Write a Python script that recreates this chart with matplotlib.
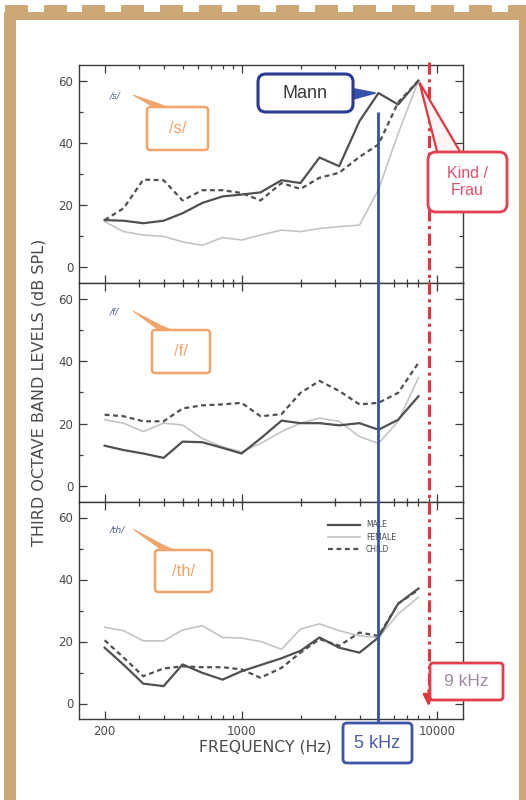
import matplotlib
matplotlib.use("Agg")
import matplotlib.pyplot as plt
import matplotlib.transforms as mtransforms
from matplotlib.patches import Rectangle, FancyBboxPatch, Polygon
from matplotlib.lines import Line2D
from matplotlib.ticker import FixedLocator, NullFormatter

# ---------------- data ----------------
freqs = [200, 250, 315, 400, 500, 630, 800, 1000, 1250, 1600, 2000, 2500,
         3150, 4000, 5000, 6300, 8000]

s_male   = [15.2, 15.0, 14.2, 15.0, 17.4, 20.7, 22.8, 23.4, 24.1, 28.0, 27.1,
            35.3, 32.5, 47.0, 56.0, 52.3, 60.0]
s_female = [14.7, 11.5, 10.4, 10.0, 8.2, 7.1, 9.6, 8.8, 10.4, 12.0, 11.5,
            12.5, 13.1, 13.6, 25.0, 43.0, 60.0]
s_child  = [15.2, 19.0, 28.2, 28.0, 21.5, 24.8, 24.8, 23.9, 21.5, 27.1, 25.2,
            28.8, 30.4, 35.5, 39.5, 53.0, 60.0]

f_male   = [13.0, 11.6, 10.5, 9.1, 14.3, 14.1, 12.3, 10.5, 15.3, 21.0, 20.2,
            20.2, 19.5, 20.2, 18.1, 21.3, 28.8]
f_female = [21.3, 20.2, 17.5, 20.2, 19.6, 15.3, 12.6, 11.0, 13.7, 17.5, 20.2,
            21.8, 20.8, 15.9, 13.7, 20.8, 34.8]
f_child  = [22.9, 22.4, 20.8, 20.8, 24.9, 25.9, 26.2, 26.7, 22.4, 23.1, 29.9,
            33.7, 30.5, 26.2, 26.7, 29.9, 39.5]

th_male   = [18.0, 12.5, 6.4, 5.6, 12.6, 9.9, 7.7, 10.4, 12.4, 14.6, 17.0,
             21.3, 18.0, 16.4, 21.3, 32.2, 37.1]
th_female = [24.6, 23.5, 20.2, 20.2, 23.7, 25.1, 21.3, 21.1, 20.0, 17.5, 24.0,
             25.7, 23.5, 21.8, 21.3, 28.9, 34.3]
th_child  = [20.4, 14.8, 8.8, 11.3, 12.0, 11.7, 11.7, 11.0, 8.3, 11.5, 16.4,
             20.8, 18.6, 22.9, 21.8, 32.2, 36.7]

phonemes = ["/s/", "/f/", "/th/"]
series_names = ["MALE", "FEMALE", "CHILD"]
xtick_values = [200, 1000, 10000]
xtick_labels = ["200", "1000", "10000"]
xminor_values = [300, 400, 500, 600, 700, 800, 900,
                 2000, 3000, 4000, 5000, 6000, 7000, 8000, 9000]
ytick_values = [0, 20, 40, 60]
yminor_values = [10, 30, 50]
MANN_FREQ = 5000
KIND_FREQ = 9000
MANN_LABEL = "Mann"
KIND_LABEL = "Kind /\nFrau"
MANN_FREQ_LABEL = "5 kHz"
KIND_FREQ_LABEL = "9 kHz"

panels = [(s_male, s_female, s_child),
          (f_male, f_female, f_child),
          (th_male, th_female, th_child)]

# ---------------- styles ----------------
W, H = 526, 800
TAN = "#CDA877"
BLUE = "#3452A8"
RED = "#E6343E"
ORANGE = "#F1A46A"
DARK = "#505050"
LIGHT = "#C4C4C4"
AXC = "#3a3a3a"
TXT = "#4a4a4a"

fig = plt.figure(figsize=(W / 100, H / 100), dpi=100)
fig.patch.set_facecolor("white")


def fx(px):
    return px / W


def fy(py):
    return 1 - py / H


# ---------------- decorative border ----------------
bg = fig.add_axes([0, 0, 1, 1], zorder=-5)
bg.set_xlim(0, W)
bg.set_ylim(H, 0)
bg.axis("off")
bg.add_patch(Rectangle((4, 12), 12, H, color=TAN, lw=0))
bg.add_patch(Rectangle((4, 12), W, 8, color=TAN, lw=0))
bg.add_patch(Rectangle((519, 12), 10, H, color=TAN, lw=0))
k = 0
while 5 + 38.7 * k < W:
    bg.add_patch(Rectangle((5 + 38.7 * k, 5), 23, 8, color=TAN, lw=0))
    k += 1

# ---------------- chart panels ----------------
left, right = 79, 463
tops = [65, 283, 502]
bottoms = [283, 502, 719]
axes = []
for i, ((m, fe, c), t, b) in enumerate(zip(panels, tops, bottoms)):
    ax = fig.add_axes([fx(left), fy(b), (right - left) / W, (b - t) / H])
    ax.set_xscale("log")
    ax.plot(freqs, fe, color=LIGHT, lw=1.2, label=series_names[1], zorder=2)
    ax.plot(freqs, m, color=DARK, lw=1.6, label=series_names[0], zorder=3)
    ax.plot(freqs, c, color=DARK, lw=1.6, dashes=(2.2, 1.6),
            label=series_names[2], zorder=3)
    ax.set_xlim(148, 13500)
    ax.set_ylim(-5, 65)
    ax.xaxis.set_major_locator(FixedLocator(xtick_values))
    ax.xaxis.set_minor_locator(FixedLocator(xminor_values))
    ax.xaxis.set_minor_formatter(NullFormatter())
    ax.yaxis.set_major_locator(FixedLocator(ytick_values))
    ax.yaxis.set_minor_locator(FixedLocator(yminor_values))
    if i == 2:
        ax.set_xticks(xtick_values, labels=xtick_labels)
    else:
        ax.tick_params(axis="x", labelbottom=False)
    ax.tick_params(which="both", direction="in", top=True, right=True,
                   color=AXC, labelsize=8.5, labelcolor=TXT, pad=4)
    ax.tick_params(which="major", length=5.5, width=0.9)
    ax.tick_params(which="minor", length=3, width=0.9)
    for sp in ax.spines.values():
        sp.set_color(AXC)
        sp.set_linewidth(1.0)
    axes.append(ax)

# legend in bottom panel
h_m = Line2D([], [], color=DARK, lw=1.6)
h_f = Line2D([], [], color=LIGHT, lw=1.2)
h_c = Line2D([], [], color=DARK, lw=1.6, dashes=(2.2, 1.6))
leg = axes[2].legend([h_m, h_f, h_c], series_names, loc="upper left",
                     bbox_to_anchor=(0.64, 0.93), frameon=False, fontsize=5.5,
                     handlelength=4.2, handletextpad=0.8, labelspacing=0.45,
                     borderaxespad=0)
for t in leg.get_texts():
    t.set_color(TXT)

# axis labels
fig.text(fx(39), fy(392), "THIRD OCTAVE BAND LEVELS (dB SPL)", rotation=90,
         ha="center", va="center", fontsize=11.5, color=TXT)
fig.text(fx(199), fy(747), "FREQUENCY (Hz)", ha="left", va="center",
         fontsize=11.3, color=TXT)

# ---------------- overlay annotations ----------------
ov = fig.add_axes([0, 0, 1, 1], zorder=10)
ov.set_xlim(0, W)
ov.set_ylim(H, 0)
ov.axis("off")
ov.patch.set_alpha(0)

bt = mtransforms.blended_transform_factory(axes[0].transData, ov.transData)


def data_to_ov(ax, x, y):
    d = ax.transData.transform((x, y))
    return ov.transData.inverted().transform(d)


# vertical marker lines
ov.plot([MANN_FREQ, MANN_FREQ], [112, 723], transform=bt, color=BLUE, lw=2.0,
        solid_capstyle="butt", zorder=1)
ov.plot([KIND_FREQ, KIND_FREQ], [62, 694], transform=bt, color=RED, lw=2.2,
        dashes=(4, 1.5, 1, 1.5), zorder=1)
ov.annotate("", xy=(KIND_FREQ, 706), xytext=(KIND_FREQ, 690), xycoords=bt,
            textcoords=bt,
            arrowprops=dict(arrowstyle="-|>,head_length=0.7,head_width=0.35",
                            color=RED, lw=1.5, shrinkA=0, shrinkB=0))


def box(x0, y0, x1, y1, ec, lw, r, z=3):
    ov.add_patch(FancyBboxPatch((x0, y0), x1 - x0, y1 - y0,
                                boxstyle=f"round,pad=0,rounding_size={r}",
                                ec=ec, fc="white", lw=lw, zorder=z))


ANN_FONT = "Liberation Sans"

# phoneme callouts
small_pos = [(110, 96), (110, 312), (110, 530)]
box_rects = [(147, 107, 208, 150), (152, 330, 210, 373), (155, 550, 212, 592)]
for ph, (sx, sy), (x0, y0, x1, y1) in zip(phonemes, small_pos, box_rects):
    ov.text(sx, sy, ph, fontsize=6.5, color="#4A5A9C", style="italic",
            ha="left", va="center", zorder=4)
    tip = (sx + 23, sy - 1)
    ov.add_patch(Polygon([(x0 + 8, y0 + 1), (x0 + 22, y0 + 1),
                          (x0 + 10, y0 - 4), tip],
                         closed=True, fc=ORANGE, ec=ORANGE, lw=0.6, zorder=2))
    box(x0, y0, x1, y1, ORANGE, 1.8, 3)
    ov.text((x0 + x1) / 2, (y0 + y1) / 2, ph, fontsize=12, color=ORANGE,
            ha="center", va="center", family=ANN_FONT, zorder=4)

# Mann callout
mtip = data_to_ov(axes[0], MANN_FREQ, s_male[freqs.index(MANN_FREQ)])
ov.add_patch(Polygon([(350, 88), (350, 100), (mtip[0] - 3, mtip[1])],
                     closed=True, fc=BLUE, ec=BLUE, lw=1, zorder=2))
box(258, 74, 353, 112, "#2B3A94", 2.2, 8)
ov.text(305.5, 93, MANN_LABEL, fontsize=13, color="#3A3A3A", ha="center",
        va="center", family=ANN_FONT, zorder=4)

# Kind / Frau callout
ktip = data_to_ov(axes[0], freqs[-1], s_child[-1])
ov.add_patch(Polygon([(438, 155), (462, 155), (ktip[0] + 1, ktip[1] + 2)],
                     closed=True, fc="#FFF6F6", ec=RED, lw=1.6, zorder=2))
box(428, 152, 507, 212, "#E2404E", 2.0, 8)
ov.text(467.5, 182, KIND_LABEL, fontsize=11.5, color="#E2506A", ha="center",
        va="center", family=ANN_FONT, linespacing=1.15, zorder=4)

# frequency boxes
box(343, 723, 412, 763, "#4055A5", 2.0, 4)
ov.text(377.5, 743, MANN_FREQ_LABEL, fontsize=13, color="#4A5CB0",
        ha="center", va="center", family=ANN_FONT, zorder=4)
box(430, 663, 503, 700, "#E0404A", 2.0, 3)
ov.text(466.5, 681.5, KIND_FREQ_LABEL, fontsize=12.5, color="#9E8AA2",
        ha="center", va="center", family=ANN_FONT, zorder=4)

fig.savefig("out.png", dpi=100, facecolor="white")
